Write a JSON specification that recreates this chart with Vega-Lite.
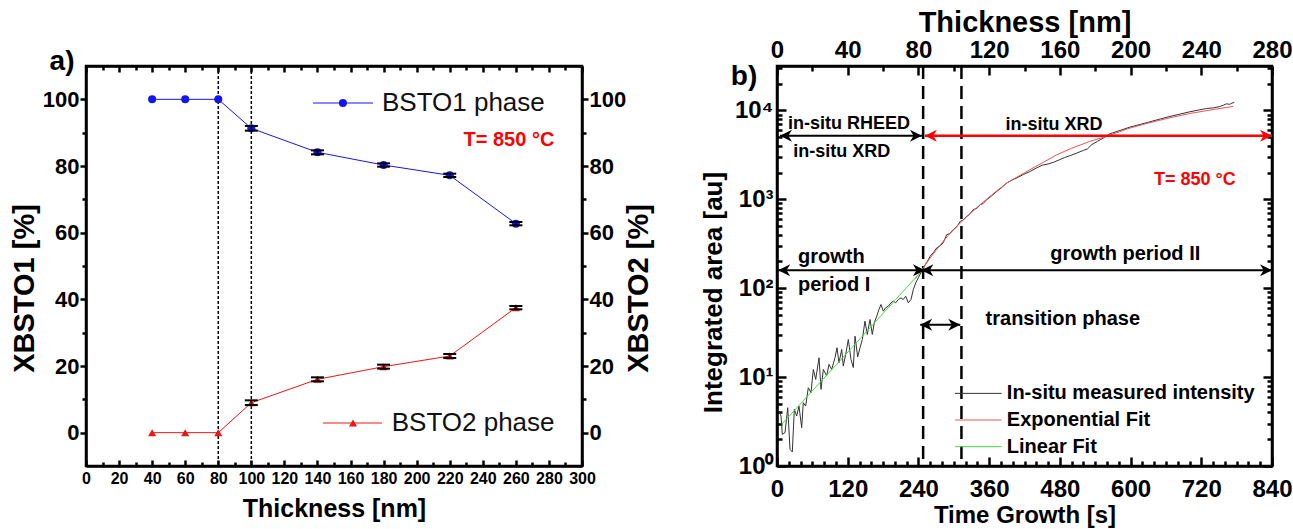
{
  "$schema": "https://vega.github.io/schema/vega-lite/v6.json",
  "padding": {"left": 8, "top": 6, "right": 0, "bottom": 0},
  "bounds": "flush",
  "spacing": 195,
  "resolve": {"scale": {"color": "independent", "shape": "independent"}},
  "config": {
    "font": "Liberation Sans",
    "view": {"stroke": "black", "strokeWidth": 2.5},
    "axis": {"ticks": true, "tickOpacity": 1, "domainColor": "black", "domainWidth": 2.5, "tickColor": "black", "tickWidth": 2.5, "labelColor": "black", "labelFontWeight": "bold", "titleColor": "black", "titleFontWeight": "bold", "labelFont": "Liberation Sans", "titleFont": "Liberation Sans", "grid": false, "labelOverlap": false, "labelFlush": false, "labelBound": false}
  },
  "datasets": {
    "vlinesA": [{"x": 80}, {"x": 100}],
    "seriesA": [
      {"x": 40, "y": 100, "s": "BSTO1 phase"}, {"x": 60, "y": 100, "s": "BSTO1 phase"}, {"x": 80, "y": 100, "s": "BSTO1 phase"}, {"x": 100, "y": 91.3, "s": "BSTO1 phase"}, {"x": 140, "y": 84.1, "s": "BSTO1 phase"}, {"x": 180, "y": 80.3, "s": "BSTO1 phase"}, {"x": 220, "y": 77.2, "s": "BSTO1 phase"}, {"x": 260, "y": 62.7, "s": "BSTO1 phase"},
      {"x": 40, "y": 0, "s": "BSTO2 phase"}, {"x": 60, "y": 0, "s": "BSTO2 phase"}, {"x": 80, "y": 0, "s": "BSTO2 phase"}, {"x": 100, "y": 9.0, "s": "BSTO2 phase"}, {"x": 140, "y": 16.0, "s": "BSTO2 phase"}, {"x": 180, "y": 19.8, "s": "BSTO2 phase"}, {"x": 220, "y": 23.0, "s": "BSTO2 phase"}, {"x": 260, "y": 37.5, "s": "BSTO2 phase"}
    ],
    "errA": [
      {"x": 100, "lo": 90.6, "hi": 92.0}, {"x": 140, "lo": 83.5, "hi": 84.7}, {"x": 180, "lo": 79.8, "hi": 80.8}, {"x": 220, "lo": 76.7, "hi": 77.7}, {"x": 260, "lo": 62.2, "hi": 63.2},
      {"x": 100, "lo": 8.3, "hi": 9.7}, {"x": 140, "lo": 15.4, "hi": 16.6}, {"x": 180, "lo": 19.2, "hi": 20.4}, {"x": 220, "lo": 22.4, "hi": 23.6}, {"x": 260, "lo": 37.0, "hi": 38.0}
    ],
    "legA": [
      {"x": 137.3, "x2": 173.6, "xm": 155.4, "xt": 179, "y": 98.9, "s": "BSTO1 phase"},
      {"x": 143.3, "x2": 179, "xm": 161.5, "xt": 184.9, "y": 2.9, "s": "BSTO2 phase"}
    ],
    "noteA": [{"x": 255.8, "y": 87.9, "label": "T= 850 °C"}],
    "tagA": [{"x": -14.5, "y": 111.2, "label": "a)"}],
    "curves": [
      {"t": 2, "v": 4.3, "s": "In-situ measured intensity"}, {"t": 6.8, "v": 3.65, "s": "In-situ measured intensity"}, {"t": 9, "v": 2.27, "s": "In-situ measured intensity"}, {"t": 13.6, "v": 2.37, "s": "In-situ measured intensity"}, {"t": 18.2, "v": 4.53, "s": "In-situ measured intensity"}, {"t": 22.1, "v": 1.54, "s": "In-situ measured intensity"}, {"t": 26, "v": 1.44, "s": "In-situ measured intensity"}, {"t": 29.4, "v": 4.34, "s": "In-situ measured intensity"}, {"t": 33.4, "v": 3.65, "s": "In-situ measured intensity"}, {"t": 37.3, "v": 4.72, "s": "In-situ measured intensity"}, {"t": 41.9, "v": 2.7, "s": "In-situ measured intensity"}, {"t": 44.6, "v": 5.15, "s": "In-situ measured intensity"}, {"t": 48.7, "v": 4.72, "s": "In-situ measured intensity"}, {"t": 53.1, "v": 7.6, "s": "In-situ measured intensity"}, {"t": 57.7, "v": 6.68, "s": "In-situ measured intensity"}, {"t": 61.6, "v": 12.2, "s": "In-situ measured intensity"}, {"t": 65.7, "v": 9.42, "s": "In-situ measured intensity"}, {"t": 71.3, "v": 16.5, "s": "In-situ measured intensity"}, {"t": 74.7, "v": 7.28, "s": "In-situ measured intensity"}, {"t": 78.6, "v": 12.2, "s": "In-situ measured intensity"}, {"t": 84.3, "v": 10.3, "s": "In-situ measured intensity"}, {"t": 88.2, "v": 13.9, "s": "In-situ measured intensity"}, {"t": 92.8, "v": 12.2, "s": "In-situ measured intensity"}, {"t": 98.4, "v": 16.5, "s": "In-situ measured intensity"}, {"t": 101.8, "v": 21.4, "s": "In-situ measured intensity"}, {"t": 105.2, "v": 14.5, "s": "In-situ measured intensity"}, {"t": 109.8, "v": 20.5, "s": "In-situ measured intensity"}, {"t": 112.5, "v": 13.3, "s": "In-situ measured intensity"}, {"t": 116.6, "v": 18, "s": "In-situ measured intensity"}, {"t": 121, "v": 26.5, "s": "In-situ measured intensity"}, {"t": 125.6, "v": 15.8, "s": "In-situ measured intensity"}, {"t": 129.5, "v": 12.8, "s": "In-situ measured intensity"}, {"t": 132.4, "v": 28.9, "s": "In-situ measured intensity"}, {"t": 136.9, "v": 16.9, "s": "In-situ measured intensity"}, {"t": 140.9, "v": 21.4, "s": "In-situ measured intensity"}, {"t": 144.8, "v": 26.5, "s": "In-situ measured intensity"}, {"t": 149.3, "v": 42.6, "s": "In-situ measured intensity"}, {"t": 153.2, "v": 30.2, "s": "In-situ measured intensity"}, {"t": 157.8, "v": 44.5, "s": "In-situ measured intensity"}, {"t": 161.7, "v": 30.2, "s": "In-situ measured intensity"}, {"t": 165.1, "v": 40.8, "s": "In-situ measured intensity"}, {"t": 169.2, "v": 48.4, "s": "In-situ measured intensity"}, {"t": 173.1, "v": 57.7, "s": "In-situ measured intensity"}, {"t": 176.5, "v": 65.6, "s": "In-situ measured intensity"}, {"t": 180.4, "v": 55.2, "s": "In-situ measured intensity"}, {"t": 184.5, "v": 60.3, "s": "In-situ measured intensity"}, {"t": 188.9, "v": 62.8, "s": "In-situ measured intensity"}, {"t": 193.5, "v": 68.5, "s": "In-situ measured intensity"}, {"t": 197.4, "v": 71.4, "s": "In-situ measured intensity"}, {"t": 201.4, "v": 68.5, "s": "In-situ measured intensity"}, {"t": 205.8, "v": 74.6, "s": "In-situ measured intensity"}, {"t": 210.4, "v": 78, "s": "In-situ measured intensity"}, {"t": 214.3, "v": 74.6, "s": "In-situ measured intensity"}, {"t": 218.4, "v": 81.3, "s": "In-situ measured intensity"}, {"t": 222.8, "v": 68.5, "s": "In-situ measured intensity"}, {"t": 227.4, "v": 74.6, "s": "In-situ measured intensity"}, {"t": 231.3, "v": 96.6, "s": "In-situ measured intensity"}, {"t": 235.4, "v": 114.8, "s": "In-situ measured intensity"}, {"t": 239.8, "v": 130.9, "s": "In-situ measured intensity"}, {"t": 245.6, "v": 155.2, "s": "In-situ measured intensity"},
      {"t": 248, "v": 169, "s": "In-situ measured intensity"}, {"t": 254, "v": 195, "s": "In-situ measured intensity"}, {"t": 260, "v": 229, "s": "In-situ measured intensity"}, {"t": 266, "v": 255, "s": "In-situ measured intensity"}, {"t": 271, "v": 284, "s": "In-situ measured intensity"}, {"t": 277, "v": 300, "s": "In-situ measured intensity"}, {"t": 282, "v": 324, "s": "In-situ measured intensity"}, {"t": 288, "v": 401, "s": "In-situ measured intensity"}, {"t": 293, "v": 410, "s": "In-situ measured intensity"}, {"t": 299, "v": 457, "s": "In-situ measured intensity"}, {"t": 305, "v": 490, "s": "In-situ measured intensity"}, {"t": 311, "v": 566, "s": "In-situ measured intensity"}, {"t": 316, "v": 585, "s": "In-situ measured intensity"}, {"t": 322, "v": 644, "s": "In-situ measured intensity"}, {"t": 327, "v": 680, "s": "In-situ measured intensity"}, {"t": 333, "v": 766, "s": "In-situ measured intensity"}, {"t": 339, "v": 790, "s": "In-situ measured intensity"}, {"t": 345, "v": 871, "s": "In-situ measured intensity"}, {"t": 350, "v": 900, "s": "In-situ measured intensity"}, {"t": 356, "v": 993, "s": "In-situ measured intensity"}, {"t": 364, "v": 1090, "s": "In-situ measured intensity"}, {"t": 373, "v": 1230, "s": "In-situ measured intensity"}, {"t": 381, "v": 1350, "s": "In-situ measured intensity"}, {"t": 390, "v": 1528, "s": "In-situ measured intensity"}, {"t": 398, "v": 1640, "s": "In-situ measured intensity"}, {"t": 407, "v": 1740, "s": "In-situ measured intensity"}, {"t": 418, "v": 1900, "s": "In-situ measured intensity"}, {"t": 429, "v": 2050, "s": "In-situ measured intensity"}, {"t": 440, "v": 2250, "s": "In-situ measured intensity"}, {"t": 450, "v": 2420, "s": "In-situ measured intensity"}, {"t": 460, "v": 2500, "s": "In-situ measured intensity"}, {"t": 469, "v": 2606, "s": "In-situ measured intensity"}, {"t": 480, "v": 2800, "s": "In-situ measured intensity"}, {"t": 488, "v": 2950, "s": "In-situ measured intensity"}, {"t": 497, "v": 3097, "s": "In-situ measured intensity"}, {"t": 508, "v": 3300, "s": "In-situ measured intensity"}, {"t": 520, "v": 3554, "s": "In-situ measured intensity"}, {"t": 527, "v": 3700, "s": "In-situ measured intensity"}, {"t": 534, "v": 4113, "s": "In-situ measured intensity"}, {"t": 544, "v": 4500, "s": "In-situ measured intensity"}, {"t": 554, "v": 4900, "s": "In-situ measured intensity"}, {"t": 565, "v": 5470, "s": "In-situ measured intensity"}, {"t": 582, "v": 5950, "s": "In-situ measured intensity"}, {"t": 599, "v": 6500, "s": "In-situ measured intensity"}, {"t": 616, "v": 6950, "s": "In-situ measured intensity"}, {"t": 633, "v": 7460, "s": "In-situ measured intensity"}, {"t": 650, "v": 8000, "s": "In-situ measured intensity"}, {"t": 667, "v": 8570, "s": "In-situ measured intensity"}, {"t": 684, "v": 9100, "s": "In-situ measured intensity"}, {"t": 701, "v": 9670, "s": "In-situ measured intensity"}, {"t": 715, "v": 10100, "s": "In-situ measured intensity"}, {"t": 729, "v": 10520, "s": "In-situ measured intensity"}, {"t": 741, "v": 10700, "s": "In-situ measured intensity"}, {"t": 752, "v": 11090, "s": "In-situ measured intensity"}, {"t": 758, "v": 11500, "s": "In-situ measured intensity"}, {"t": 763, "v": 11890, "s": "In-situ measured intensity"}, {"t": 768, "v": 11700, "s": "In-situ measured intensity"}, {"t": 772, "v": 12100, "s": "In-situ measured intensity"}, {"t": 776, "v": 12300, "s": "In-situ measured intensity"},
      {"t": 235, "v": 128, "s": "Exponential Fit"}, {"t": 248, "v": 169, "s": "Exponential Fit"}, {"t": 260, "v": 219, "s": "Exponential Fit"}, {"t": 275, "v": 295, "s": "Exponential Fit"}, {"t": 290, "v": 389, "s": "Exponential Fit"}, {"t": 311, "v": 543, "s": "Exponential Fit"}, {"t": 330, "v": 716, "s": "Exponential Fit"}, {"t": 350, "v": 933, "s": "Exponential Fit"}, {"t": 370, "v": 1202, "s": "Exponential Fit"}, {"t": 390, "v": 1528, "s": "Exponential Fit"}, {"t": 420, "v": 1995, "s": "Exponential Fit"}, {"t": 450, "v": 2570, "s": "Exponential Fit"}, {"t": 475, "v": 3177, "s": "Exponential Fit"}, {"t": 500, "v": 3758, "s": "Exponential Fit"}, {"t": 530, "v": 4467, "s": "Exponential Fit"}, {"t": 559, "v": 5105, "s": "Exponential Fit"}, {"t": 599, "v": 6339, "s": "Exponential Fit"}, {"t": 630, "v": 7211, "s": "Exponential Fit"}, {"t": 667, "v": 8279, "s": "Exponential Fit"}, {"t": 700, "v": 9226, "s": "Exponential Fit"}, {"t": 740, "v": 10233, "s": "Exponential Fit"}, {"t": 774, "v": 11092, "s": "Exponential Fit"},
      {"t": 8, "v": 2.95, "s": "Linear Fit"}, {"t": 127, "v": 21.4, "s": "Linear Fit"}, {"t": 245, "v": 155, "s": "Linear Fit"}
    ],
    "vlinesB": [{"t": 248}, {"t": 313}],
    "arrowsBlack": [{"t": 5, "t2": 246, "v": 5200}, {"t": 2, "t2": 251, "v": 159}, {"t": 245, "t2": 840, "v": 159}, {"t": 243, "t2": 311, "v": 38.8}],
    "arrowsRed": [{"t": 251, "t2": 840, "v": 5200}],
    "headsBlack": [{"t": 5, "v": 5200, "dir": "left"}, {"t": 246, "v": 5200, "dir": "right"}, {"t": 2, "v": 159, "dir": "left"}, {"t": 251, "v": 159, "dir": "right"}, {"t": 245, "v": 159, "dir": "left"}, {"t": 840, "v": 159, "dir": "right"}, {"t": 243, "v": 38.8, "dir": "left"}, {"t": 311, "v": 38.8, "dir": "right"}],
    "headsRed": [{"t": 251, "v": 5200, "dir": "left"}, {"t": 840, "v": 5200, "dir": "right"}],
    "notesB": [{"t": 122, "v": 7060, "label": "in-situ RHEED"}, {"t": 110, "v": 3430, "label": "in-situ XRD"}, {"t": 470, "v": 6890, "label": "in-situ XRD"}],
    "notesB2": [{"t": 591, "v": 244, "label": "growth period II"}, {"t": 485, "v": 44.5, "label": "transition phase"}],
    "notesB3": [{"t": 35.6, "v": 227, "label": "growth"}, {"t": 35.6, "v": 110, "label": "period I"}],
    "tempB": [{"t": 709, "v": 1665, "label": "T= 850 °C"}],
    "legB": [{"t": 302, "t2": 381, "tt": 390, "v": 6.56, "s": "In-situ measured intensity"}, {"t": 302, "t2": 381, "tt": 390, "v": 3.29, "s": "Exponential Fit"}, {"t": 302, "t2": 381, "tt": 390, "v": 1.65, "s": "Linear Fit"}],
    "tagB": [{"t": -56, "v": 23900, "label": "b)"}]
  },
  "hconcat": [
    {
      "width": 496,
      "height": 400,
      "layer": [
        {
          "layer": [
            {
              "data": {"name": "vlinesA"},
              "mark": {"type": "rule", "color": "black", "strokeWidth": 1.5, "strokeDash": [3, 2]},
              "encoding": {
                "x": {"field": "x", "type": "quantitative", "scale": {"domain": [0, 300], "nice": false, "zero": false}, "axis": null}
              }
            },
            {
              "data": {"name": "seriesA"},
              "mark": {"type": "line", "strokeWidth": 1},
              "encoding": {
                "x": {"field": "x", "type": "quantitative", "axis": null},
                "y": {"field": "y", "type": "quantitative", "scale": {"domain": [-10, 110], "nice": false, "zero": false}, "axis": null},
                "color": {"field": "s", "type": "nominal", "scale": {"domain": ["BSTO1 phase", "BSTO2 phase"], "range": ["#1414f0", "#f01414"]}, "legend": null}
              }
            },
            {
              "data": {"name": "seriesA"},
              "mark": {"type": "point", "filled": true, "size": 65, "opacity": 1},
              "encoding": {
                "x": {"field": "x", "type": "quantitative", "axis": null},
                "y": {"field": "y", "type": "quantitative", "axis": null},
                "color": {"field": "s", "type": "nominal", "legend": null},
                "shape": {"field": "s", "type": "nominal", "scale": {"domain": ["BSTO1 phase", "BSTO2 phase"], "range": ["circle", "triangle-up"]}, "legend": null}
              }
            },
            {
              "data": {"name": "errA"},
              "mark": {"type": "rule", "color": "black", "strokeWidth": 1.5},
              "encoding": {"x": {"field": "x", "type": "quantitative", "axis": null}, "y": {"field": "lo", "type": "quantitative", "axis": null}, "y2": {"field": "hi"}}
            },
            {
              "data": {"name": "errA"},
              "mark": {"type": "tick", "orient": "horizontal", "color": "black", "size": 13, "thickness": 2, "opacity": 1},
              "encoding": {"x": {"field": "x", "type": "quantitative", "axis": null}, "y": {"field": "lo", "type": "quantitative", "axis": null}}
            },
            {
              "data": {"name": "errA"},
              "mark": {"type": "tick", "orient": "horizontal", "color": "black", "size": 13, "thickness": 2, "opacity": 1},
              "encoding": {"x": {"field": "x", "type": "quantitative", "axis": null}, "y": {"field": "hi", "type": "quantitative", "axis": null}}
            },
            {
              "data": {"name": "legA"},
              "mark": {"type": "rule", "strokeWidth": 1},
              "encoding": {"x": {"field": "x", "type": "quantitative", "axis": null}, "x2": {"field": "x2"}, "y": {"field": "y", "type": "quantitative", "axis": null}, "color": {"field": "s", "type": "nominal", "legend": null}}
            },
            {
              "data": {"name": "legA"},
              "mark": {"type": "point", "filled": true, "size": 65, "opacity": 1},
              "encoding": {"x": {"field": "xm", "type": "quantitative", "axis": null}, "y": {"field": "y", "type": "quantitative", "axis": null}, "color": {"field": "s", "type": "nominal", "legend": null}, "shape": {"field": "s", "type": "nominal", "legend": null}}
            },
            {
              "data": {"name": "legA"},
              "mark": {"type": "text", "align": "left", "baseline": "middle", "fontSize": 26, "color": "#111111"},
              "encoding": {"x": {"field": "xt", "type": "quantitative", "axis": null}, "y": {"field": "y", "type": "quantitative", "axis": null}, "text": {"field": "s"}}
            },
            {
              "data": {"name": "noteA"},
              "mark": {"type": "text", "align": "center", "baseline": "middle", "fontSize": 20, "fontWeight": "bold", "color": "#ff0000"},
              "encoding": {"x": {"field": "x", "type": "quantitative", "axis": null}, "y": {"field": "y", "type": "quantitative", "axis": null}, "text": {"field": "label"}}
            },
            {
              "data": {"name": "tagA"},
              "mark": {"type": "text", "align": "center", "baseline": "middle", "fontSize": 28, "fontWeight": "bold", "color": "black"},
              "encoding": {"x": {"field": "x", "type": "quantitative", "axis": null}, "y": {"field": "y", "type": "quantitative", "axis": null}, "text": {"field": "label"}}
            }
          ]
        },
        {
          "data": {"values": [{"a": 0, "b": 0}]},
          "mark": {"type": "point", "opacity": 0},
          "encoding": {
            "x": {"field": "a", "type": "quantitative", "scale": {"domain": [0, 300], "nice": false, "zero": false},
              "axis": {"orient": "bottom", "title": "Thickness [nm]", "titleFontSize": 25, "titleBaseline": "alphabetic", "titleY": 50,
                "values": [0,20,40,60,80,100,120,140,160,180,200,220,240,260,280,300],
                "ticks": true, "tickSize": -6, "labelOverlap": false, "labelFontSize": 16, "labelPadding": 10}},
            "y": {"field": "b", "type": "quantitative", "scale": {"domain": [-10, 110], "nice": false, "zero": false},
              "axis": {"orient": "left", "title": "XBSTO1 [%]", "titleFontSize": 29, "titleBaseline": "middle", "titleX": -62, "titleY": 222,
                "values": [0,20,40,60,80,100],
                "ticks": true, "tickSize": 6, "labelOverlap": false, "labelFontSize": 22, "labelPadding": 1}}
          }
        },
        {
          "data": {"values": [{"a": 0, "b": 0}]},
          "mark": {"type": "point", "opacity": 0},
          "encoding": {
            "x": {"field": "a", "type": "quantitative", "scale": {"domain": [0, 300], "nice": false, "zero": false},
              "axis": {"orient": "top", "title": null, "labels": false, "values": [0,20,40,60,80,100,120,140,160,180,200,220,240,260,280,300], "ticks": true, "tickSize": -6}},
            "y": {"field": "b", "type": "quantitative", "scale": {"domain": [-10, 110], "nice": false, "zero": false},
              "axis": {"orient": "right", "title": "XBSTO2 [%]", "titleFontSize": 29, "titleAngle": -90, "titleBaseline": "middle", "titleX": 56, "titleY": 222,
                "values": [0,20,40,60,80,100],
                "ticks": true, "tickSize": 6, "labelOverlap": false, "labelFontSize": 22, "labelPadding": 1}}
          }
        },
        {
          "data": {"values": [{"a": 0, "b": 0}]},
          "mark": {"type": "point", "opacity": 0},
          "encoding": {
            "x": {"field": "a", "type": "quantitative", "scale": {"domain": [0, 300], "nice": false, "zero": false},
              "axis": {"orient": "bottom", "title": null, "labels": false, "domain": false, "values": [10,30,50,70,90,110,130,150,170,190,210,230,250,270,290], "ticks": true, "tickSize": -4}},
            "y": {"field": "b", "type": "quantitative", "scale": {"domain": [-10, 110], "nice": false, "zero": false},
              "axis": {"orient": "left", "title": null, "labels": false, "domain": false, "values": [10,30,50,70,90], "ticks": true, "tickSize": 4}}
          }
        },
        {
          "data": {"values": [{"a": 0, "b": 0}]},
          "mark": {"type": "point", "opacity": 0},
          "encoding": {
            "x": {"field": "a", "type": "quantitative", "scale": {"domain": [0, 300], "nice": false, "zero": false},
              "axis": {"orient": "top", "title": null, "labels": false, "domain": false, "values": [10,30,50,70,90,110,130,150,170,190,210,230,250,270,290], "ticks": true, "tickSize": -4}},
            "y": {"field": "b", "type": "quantitative", "scale": {"domain": [-10, 110], "nice": false, "zero": false},
              "axis": {"orient": "right", "title": null, "labels": false, "domain": false, "values": [10,30,50,70,90], "ticks": true, "tickSize": 4}}
          }
        }
      ],
      "resolve": {"scale": {"x": "independent", "y": "independent"}}
    },
    {
      "width": 495,
      "height": 400,
      "layer": [
        {
          "layer": [
            {
              "data": {"name": "vlinesB"},
              "mark": {"type": "rule", "color": "black", "strokeWidth": 2.5, "strokeDash": [13, 7]},
              "encoding": {
                "x": {"field": "t", "type": "quantitative", "scale": {"domain": [0, 840], "nice": false, "zero": false}, "axis": null}
              }
            },
            {
              "data": {"name": "curves"},
              "mark": {"type": "line", "strokeWidth": 1},
              "encoding": {
                "x": {"field": "t", "type": "quantitative", "axis": null},
                "y": {"field": "v", "type": "quantitative", "scale": {"type": "log", "domain": [1, 31623], "nice": false}, "axis": null},
                "color": {"field": "s", "type": "nominal", "scale": {"domain": ["In-situ measured intensity", "Exponential Fit", "Linear Fit"], "range": ["#333333", "#ee5555", "#44dd44"]}, "legend": null},
                "detail": {"field": "s"}
              }
            },
            {
              "data": {"name": "arrowsBlack"},
              "mark": {"type": "rule", "color": "black", "strokeWidth": 2},
              "encoding": {"x": {"field": "t", "type": "quantitative", "axis": null}, "x2": {"field": "t2"}, "y": {"field": "v", "type": "quantitative", "axis": null}}
            },
            {
              "data": {"name": "arrowsRed"},
              "mark": {"type": "rule", "color": "#ff0000", "strokeWidth": 2.5},
              "encoding": {"x": {"field": "t", "type": "quantitative", "axis": null}, "x2": {"field": "t2"}, "y": {"field": "v", "type": "quantitative", "axis": null}}
            },
            {
              "data": {"name": "headsBlack"},
              "mark": {"type": "point", "filled": true, "size": 576, "opacity": 1, "color": "black"},
              "encoding": {"x": {"field": "t", "type": "quantitative", "axis": null}, "y": {"field": "v", "type": "quantitative", "axis": null},
                "shape": {"field": "dir", "type": "nominal", "scale": {"domain": ["left", "right"], "range": ["M0,0L1,-0.5L0.7,0L1,0.5Z", "M0,0L-1,-0.5L-0.7,0L-1,0.5Z"]}, "legend": null}}
            },
            {
              "data": {"name": "headsRed"},
              "mark": {"type": "point", "filled": true, "size": 576, "opacity": 1, "color": "#ff0000"},
              "encoding": {"x": {"field": "t", "type": "quantitative", "axis": null}, "y": {"field": "v", "type": "quantitative", "axis": null},
                "shape": {"field": "dir", "type": "nominal", "legend": null}}
            },
            {
              "data": {"name": "notesB"},
              "mark": {"type": "text", "align": "center", "baseline": "middle", "fontSize": 18, "fontWeight": "bold", "color": "black"},
              "encoding": {"x": {"field": "t", "type": "quantitative", "axis": null}, "y": {"field": "v", "type": "quantitative", "axis": null}, "text": {"field": "label"}}
            },
            {
              "data": {"name": "notesB2"},
              "mark": {"type": "text", "align": "center", "baseline": "middle", "fontSize": 20, "fontWeight": "bold", "color": "black"},
              "encoding": {"x": {"field": "t", "type": "quantitative", "axis": null}, "y": {"field": "v", "type": "quantitative", "axis": null}, "text": {"field": "label"}}
            },
            {
              "data": {"name": "notesB3"},
              "mark": {"type": "text", "align": "left", "baseline": "middle", "fontSize": 20, "fontWeight": "bold", "color": "black"},
              "encoding": {"x": {"field": "t", "type": "quantitative", "axis": null}, "y": {"field": "v", "type": "quantitative", "axis": null}, "text": {"field": "label"}}
            },
            {
              "data": {"name": "tempB"},
              "mark": {"type": "text", "align": "center", "baseline": "middle", "fontSize": 18, "fontWeight": "bold", "color": "#ff0000"},
              "encoding": {"x": {"field": "t", "type": "quantitative", "axis": null}, "y": {"field": "v", "type": "quantitative", "axis": null}, "text": {"field": "label"}}
            },
            {
              "data": {"name": "legB"},
              "mark": {"type": "rule", "strokeWidth": 1},
              "encoding": {"x": {"field": "t", "type": "quantitative", "axis": null}, "x2": {"field": "t2"}, "y": {"field": "v", "type": "quantitative", "axis": null}, "color": {"field": "s", "type": "nominal", "legend": null}}
            },
            {
              "data": {"name": "legB"},
              "mark": {"type": "text", "align": "left", "baseline": "middle", "fontSize": 20, "fontWeight": "bold", "color": "black"},
              "encoding": {"x": {"field": "tt", "type": "quantitative", "axis": null}, "y": {"field": "v", "type": "quantitative", "axis": null}, "text": {"field": "s"}}
            },
            {
              "data": {"name": "tagB"},
              "mark": {"type": "text", "align": "center", "baseline": "middle", "fontSize": 28, "fontWeight": "bold", "color": "black"},
              "encoding": {"x": {"field": "t", "type": "quantitative", "axis": null}, "y": {"field": "v", "type": "quantitative", "axis": null}, "text": {"field": "label"}}
            }
          ]
        },
        {
          "data": {"values": [{"a": 0, "b": 1}]},
          "mark": {"type": "point", "opacity": 0},
          "encoding": {
            "x": {"field": "a", "type": "quantitative", "scale": {"domain": [0, 840], "nice": false, "zero": false},
              "axis": {"orient": "bottom", "title": "Time Growth [s]", "titleFontSize": 24, "titleBaseline": "alphabetic", "titleY": 56,
                "values": [0,120,240,360,480,600,720,840],
                "ticks": true, "tickSize": -9, "labelOverlap": false, "labelFontSize": 24, "labelPadding": 20}},
            "y": {"field": "b", "type": "quantitative", "scale": {"type": "log", "domain": [1, 31623], "nice": false},
              "axis": {"orient": "left", "title": "Integrated area [au]", "titleFontSize": 26, "titleBaseline": "middle", "titleX": -64, "titleY": 226,
                "values": [1,10,100,1000,10000],
                "labelExpr": "datum.value === 1 ? '10⁰' : datum.value === 10 ? '10¹' : datum.value === 100 ? '10²' : datum.value === 1000 ? '10³' : '10⁴'",
                "ticks": true, "tickSize": -9, "labelOverlap": false, "labelFontSize": 24, "labelPadding": 13}}
          }
        },
        {
          "data": {"values": [{"a": 0, "b": 1}]},
          "mark": {"type": "point", "opacity": 0},
          "encoding": {
            "x": {"field": "a", "type": "quantitative", "scale": {"domain": [0, 280], "nice": false, "zero": false},
              "axis": {"orient": "top", "title": "Thickness [nm]", "titleFontSize": 29, "titleBaseline": "alphabetic", "titleY": -35,
                "values": [0,40,80,120,160,200,240,280],
                "ticks": true, "tickSize": -9, "labelOverlap": false, "labelFontSize": 24, "labelPadding": 13}},
            "y": {"field": "b", "type": "quantitative", "scale": {"type": "log", "domain": [1, 31623], "nice": false},
              "axis": {"orient": "right", "title": null, "labels": false, "values": [1,10,100,1000,10000], "ticks": true, "tickSize": -9}}
          }
        },
        {
          "data": {"values": [{"a": 0, "b": 1}]},
          "mark": {"type": "point", "opacity": 0},
          "encoding": {
            "x": {"field": "a", "type": "quantitative", "scale": {"domain": [0, 840], "nice": false, "zero": false},
              "axis": {"orient": "bottom", "title": null, "labels": false, "domain": false,
                "values": [20,40,60,80,100,140,160,180,200,220,260,280,300,320,340,380,400,420,440,460,500,520,540,560,580,620,640,660,680,700,740,760,780,800,820],
                "ticks": true, "tickSize": -5}},
            "y": {"field": "b", "type": "quantitative", "scale": {"type": "log", "domain": [1, 31623], "nice": false},
              "axis": {"orient": "left", "title": null, "labels": false, "domain": false,
                "values": [2,3,4,5,6,7,8,9,20,30,40,50,60,70,80,90,200,300,400,500,600,700,800,900,2000,3000,4000,5000,6000,7000,8000,9000,20000,30000],
                "ticks": true, "tickSize": -5}}
          }
        },
        {
          "data": {"values": [{"a": 0, "b": 1}]},
          "mark": {"type": "point", "opacity": 0},
          "encoding": {
            "x": {"field": "a", "type": "quantitative", "scale": {"domain": [0, 280], "nice": false, "zero": false},
              "axis": {"orient": "top", "title": null, "labels": false, "domain": false, "values": [20,60,100,140,180,220,260], "ticks": true, "tickSize": -5}},
            "y": {"field": "b", "type": "quantitative", "scale": {"type": "log", "domain": [1, 31623], "nice": false},
              "axis": {"orient": "right", "title": null, "labels": false, "domain": false,
                "values": [2,3,4,5,6,7,8,9,20,30,40,50,60,70,80,90,200,300,400,500,600,700,800,900,2000,3000,4000,5000,6000,7000,8000,9000,20000,30000],
                "ticks": true, "tickSize": -5}}
          }
        }
      ],
      "resolve": {"scale": {"x": "independent", "y": "independent"}}
    }
  ]
}
